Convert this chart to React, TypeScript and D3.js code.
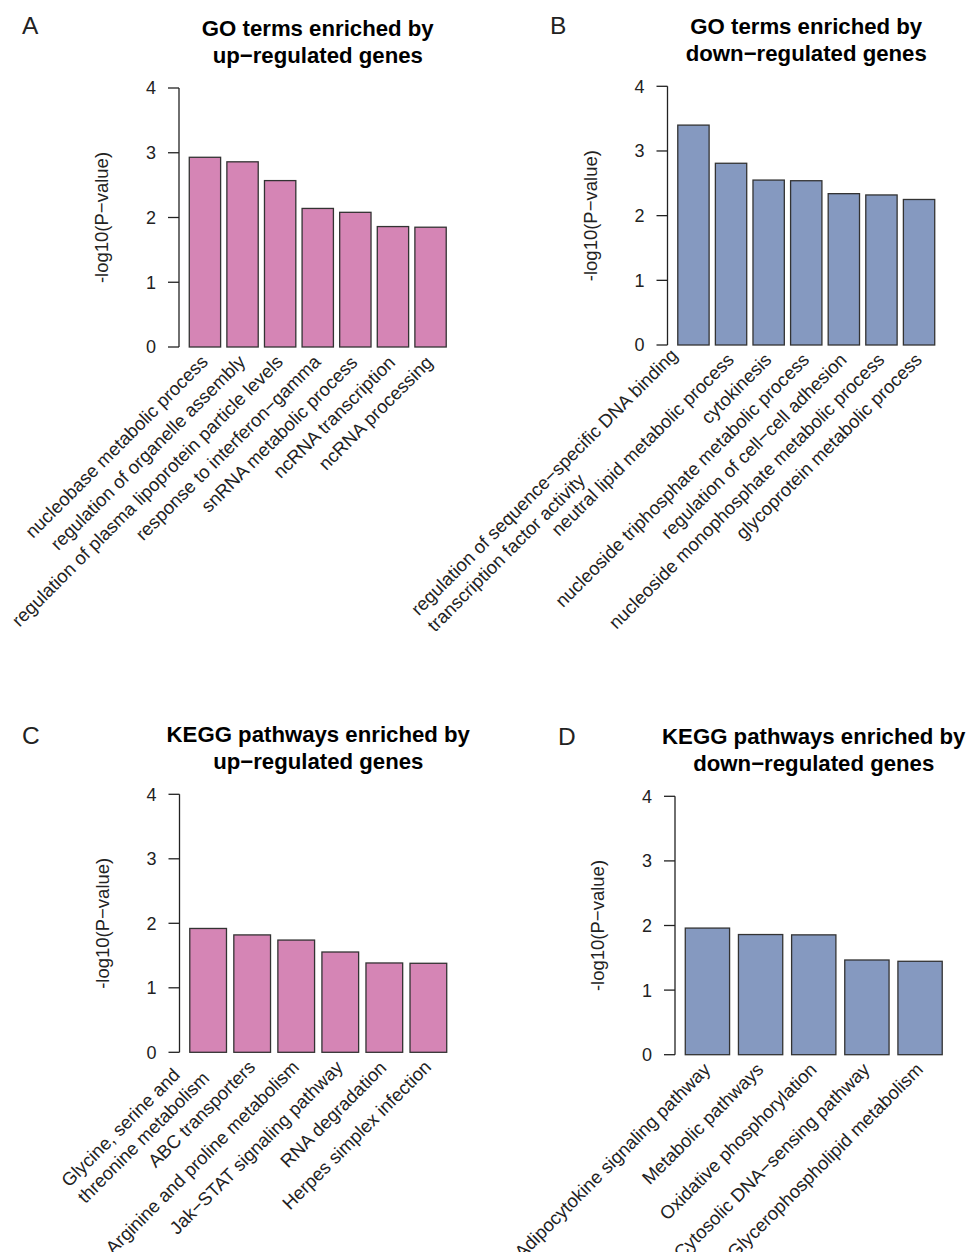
import React from "react";
import * as d3 from "d3";

// ---------- data ----------
const goUpTerms = [
  "nucleobase metabolic process",
  "regulation of organelle assembly",
  "regulation of plasma lipoprotein particle levels",
  "response to interferon\u2212gamma",
  "snRNA metabolic process",
  "ncRNA transcription",
  "ncRNA processing",
];
const goUpValues = [2.93, 2.86, 2.57, 2.14, 2.08, 1.86, 1.85];

const goDownTerms = [
  "regulation of sequence\u2212specific DNA binding\ntranscription factor activity",
  "neutral lipid metabolic process",
  "cytokinesis",
  "nucleoside triphosphate metabolic process",
  "regulation of cell\u2212cell adhesion",
  "nucleoside monophosphate metabolic process",
  "glycoprotein metabolic process",
];
const goDownValues = [3.4, 2.81, 2.55, 2.54, 2.34, 2.32, 2.25];

const keggUpTerms = [
  "Glycine, serine and\nthreonine metabolism",
  "ABC transporters",
  "Arginine and proline metabolism",
  "Jak\u2212STAT signaling pathway",
  "RNA degradation",
  "Herpes simplex infection",
];
const keggUpValues = [1.92, 1.82, 1.74, 1.555, 1.385, 1.38];

const keggDownTerms = [
  "Adipocytokine signaling pathway",
  "Metabolic pathways",
  "Oxidative phosphorylation",
  "Cytosolic DNA\u2212sensing pathway",
  "Glycerophospholipid metabolism",
];
const keggDownValues = [1.96, 1.86, 1.855, 1.466, 1.446];

const yTicks = [0, 1, 2, 3, 4];
const yLabel = "-log10(P\u2212value)";

const titleA = ["GO terms enriched by", "up\u2212regulated genes"];
const titleB = ["GO terms enriched by", "down\u2212regulated genes"];
const titleC = ["KEGG pathways enriched by", "up\u2212regulated genes"];
const titleD = ["KEGG pathways enriched by", "down\u2212regulated genes"];

const PINK = "#d585b5";
const BLUE = "#8599c0";

const FONT = "'Liberation Sans', Arial, Helvetica, sans-serif";
const LABEL_SIZE = 18.5;

let ctx: CanvasRenderingContext2D | null = null;
function measure(text: string, size: number): number {
  if (!ctx) {
    const c = document.createElement("canvas");
    ctx = c.getContext("2d");
  }
  if (!ctx) return text.length * size * 0.5;
  ctx.font = `${size}px ${FONT}`;
  return ctx.measureText(text).width;
}

type PanelProps = {
  letter: string;
  letterX: number;
  letterY: number;
  title: string[];
  terms: string[];
  values: number[];
  color: string;
  left: number;
  right: number;
  top: number;
  bottom: number;
};

function Panel(p: PanelProps) {
  const n = p.values.length;
  // R barplot geometry: width 1, space 0.2
  const x0 = 0.2;
  const x1 = 0.2 + (n - 1) * 1.2 + 1;
  const ext = (x1 - x0) * 0.04;
  const x = d3.scaleLinear().domain([x0 - ext, x1 + ext]).range([p.left, p.right]);
  const y = d3.scaleLinear().domain([0, 4]).range([p.bottom, p.top]);
  const cx = (p.left + p.right) / 2;
  const lh = 23;

  return (
    <g>
      <text x={p.letterX} y={p.letterY} fontSize={24.5} fontFamily={FONT} fill="#222">
        {p.letter}
      </text>
      {p.title.map((t, i) => (
        <text
          key={i}
          x={cx}
          y={y(4) - 52 + i * 26.5}
          textAnchor="middle"
          fontSize={22.2}
          fontWeight="bold"
          fontFamily={FONT}
          fill="#000"
        >
          {t}
        </text>
      ))}
      {/* y axis */}
      <line x1={p.left} x2={p.left} y1={y(0)} y2={y(4)} stroke="#222" strokeWidth={1.3} />
      {yTicks.map((t) => (
        <g key={t}>
          <line x1={p.left - 11} x2={p.left} y1={y(t)} y2={y(t)} stroke="#222" strokeWidth={1.3} />
          <text
            x={p.left - 23}
            y={y(t)}
            dy="0.36em"
            textAnchor="end"
            fontSize={18}
            fontFamily={FONT}
            fill="#222"
          >
            {t}
          </text>
        </g>
      ))}
      <text
        transform={`translate(${p.left - 77.5},${(y(0) + y(4)) / 2}) rotate(-90)`}
        textAnchor="middle"
        dy="0.36em"
        fontSize={18.5}
        fontFamily={FONT}
        fill="#222"
      >
        {yLabel}
      </text>
      {/* bars */}
      {p.values.map((v, i) => {
        const l = 0.2 + i * 1.2;
        return (
          <rect
            key={i}
            x={x(l)}
            y={y(v)}
            width={x(l + 1) - x(l)}
            height={y(0) - y(v)}
            fill={p.color}
            stroke="#333"
            strokeWidth={1.3}
          />
        );
      })}
      {/* rotated labels */}
      {p.terms.map((term, i) => {
        const c = x(0.2 + i * 1.2 + 0.5);
        const lines = term.split("\n");
        const widths = lines.map((s) => measure(s, LABEL_SIZE));
        const W = Math.max(...widths);
        const multi = lines.length > 1;
        const shiftB = multi ? -9 : 0;
        return (
          <g key={i} transform={`translate(${c + 4},${y(0) + 16}) rotate(-45)`}>
            {lines.map((s, j) => (
              <text
                key={j}
                x={-W + shiftB}
                y={multi ? (j - (lines.length - 1) / 2) * lh - 5 : 0}
                fontSize={LABEL_SIZE}
                fontFamily={FONT}
                fill="#222"
              >
                {s}
              </text>
            ))}
          </g>
        );
      })}
    </g>
  );
}

export default function App() {
  return (
    <svg width={967} height={1252} style={{ position: "absolute", left: 0, top: 0, background: "#fff" }}>
      <rect width={967} height={1252} fill="#fff" />
      <Panel
        letter="A"
        letterX={22}
        letterY={34.3}
        title={titleA}
        terms={goUpTerms}
        values={goUpValues}
        color={PINK}
        left={179}
        right={456.5}
        top={88}
        bottom={347}
      />
      <Panel
        letter="B"
        letterX={550}
        letterY={33.5}
        title={titleB}
        terms={goDownTerms}
        values={goDownValues}
        color={BLUE}
        left={667.5}
        right={945}
        top={86.3}
        bottom={345}
      />
      <Panel
        letter="C"
        letterX={22}
        letterY={744.3}
        title={titleC}
        terms={keggUpTerms}
        values={keggUpValues}
        color={PINK}
        left={179.5}
        right={457}
        top={794.3}
        bottom={1052.3}
      />
      <Panel
        letter="D"
        letterX={558}
        letterY={745}
        title={titleD}
        terms={keggDownTerms}
        values={keggDownValues}
        color={BLUE}
        left={675}
        right={952.5}
        top={796.3}
        bottom={1054.7}
      />
    </svg>
  );
}
